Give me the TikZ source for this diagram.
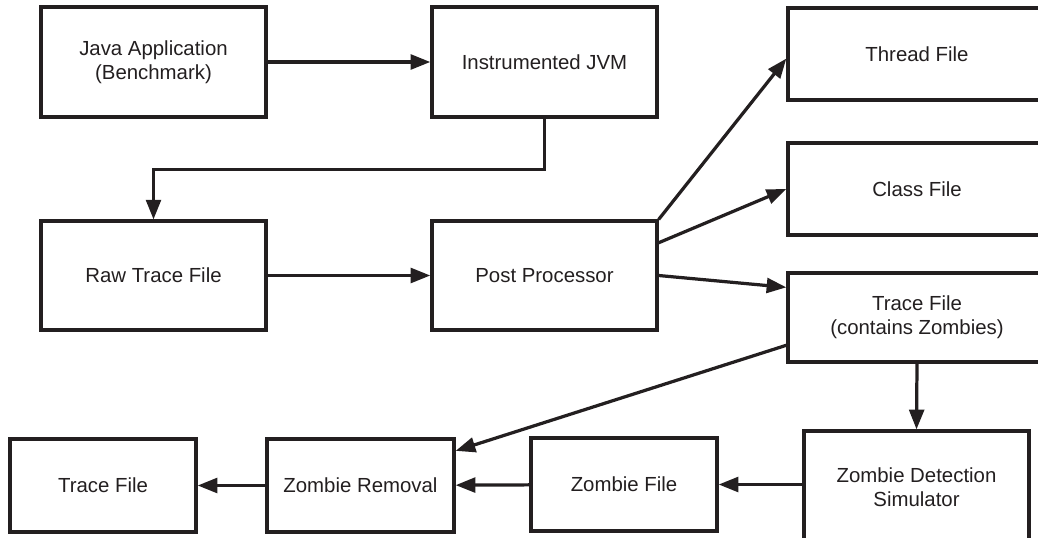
\documentclass[tikz,border=0pt]{standalone}
\usepackage{fontspec}
\setmainfont{Liberation Sans}
\usepackage{tikz}
\usetikzlibrary{arrows.meta}
\usepackage{xcolor}
\definecolor{inkdark}{RGB}{35,31,32}

\begin{document}
\begin{tikzpicture}[x=0.025cm,y=-0.025cm,line join=miter,
    stage/.style={draw=inkdark,line width=2.3pt,fill=white,text=inkdark,align=center,
      font=\fontsize{14.5}{16.8}\selectfont,inner sep=0pt},
    flow/.style={draw=inkdark,line width=2.3pt,-{Triangle[length=14pt,width=10.5pt]}}]
  \useasboundingbox (0,0) rectangle (1038,538);
  \clip (0,0) rectangle (1038,538);
  % top row and the first trace
  \node[stage,minimum width=5.625cm,minimum height=2.75cm] (java) at (153.5,62) {Java Application\\(Benchmark)};
  \node[stage,minimum width=5.625cm,minimum height=2.75cm] (jvm) at (544.5,62) {Instrumented JVM};
  \node[stage,minimum width=5.625cm,minimum height=2.72cm] (raw) at (153.5,275.5) {Raw Trace File};
  \node[stage,minimum width=5.625cm,minimum height=2.72cm] (pp) at (544.5,275.5) {Post Processor};
  % outputs of the post processor
  \node[stage,minimum width=6.45cm,minimum height=2.3cm] (thread) at (917,54) {Thread File};
  \node[stage,minimum width=6.45cm,minimum height=2.3cm] (class) at (917,189) {Class File};
  \node[stage,minimum width=6.45cm,minimum height=2.22cm] (tracez) at (917,317.5) {Trace File\\(contains Zombies)};
  % bottom row
  \node[stage,minimum width=5.625cm,minimum height=2.8cm] (zds) at (916.5,487) {Zombie Detection\\Simulator};
  \node[stage,minimum width=4.65cm,minimum height=2.32cm] (zfile) at (624,484.5) {Zombie File};
  \node[stage,minimum width=4.675cm,minimum height=2.32cm] (zrem) at (360.5,485.5) {Zombie Removal};
  \node[stage,minimum width=4.65cm,minimum height=2.32cm] (trace) at (103,485.5) {Trace File};
  \draw[flow] (java) -- (jvm);
  \draw[flow] (jvm.south) -- ++(0,51) -| (raw.north);
  \draw[flow] (raw) -- (pp);
  \draw[flow] (pp.north east) -- (thread.182);
  \draw[flow] (pp.16) -- (class.west);
  \draw[flow] (pp.east) -- (tracez.167);
  \draw[flow] (tracez.192) -- (zrem.20);
  \draw[flow] (tracez.south) -- (zds.north);
  \draw[flow] (zds.west |- zfile.east) -- (zfile.east);
  \draw[flow] (zfile) -- (zrem);
  \draw[flow] (zrem) -- (trace);
\end{tikzpicture}
\end{document}
